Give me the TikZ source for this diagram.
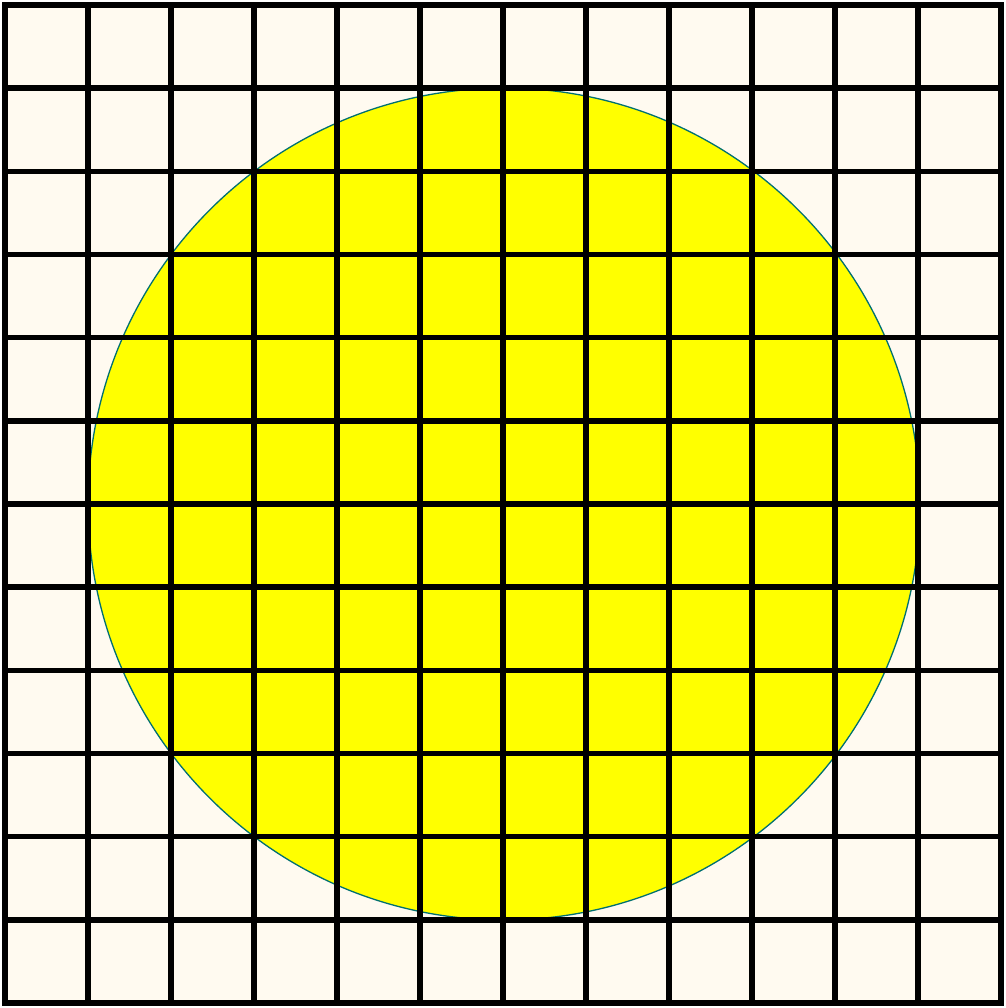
\documentclass[tikz,border=0pt]{standalone}
\definecolor{cream}{HTML}{FFFAF0}
\definecolor{sunyellow}{HTML}{FFFF00}
\definecolor{rimteal}{HTML}{007070}
\tikzset{gridline/.style={draw=black,line width=5.5pt},
  disc/.style={fill=sunyellow,draw=rimteal,line width=1.3pt}}
\begin{document}
\begin{tikzpicture}[x=1pt,y=-1pt]
\useasboundingbox (0,0) rectangle (1005,1008);
\fill[cream] (5,5) rectangle (1001,1003);
\path[disc] (504,504) circle[radius=416];
\foreach \i in {1,...,11} {
  \draw[gridline] ({5+\i*83},5) -- ({5+\i*83},1003);
  \draw[gridline] (5,{5+\i*83.1667}) -- (1001,{5+\i*83.1667});
}
\draw[gridline] (5,5) rectangle (1001,1003);
\end{tikzpicture}
\end{document}
